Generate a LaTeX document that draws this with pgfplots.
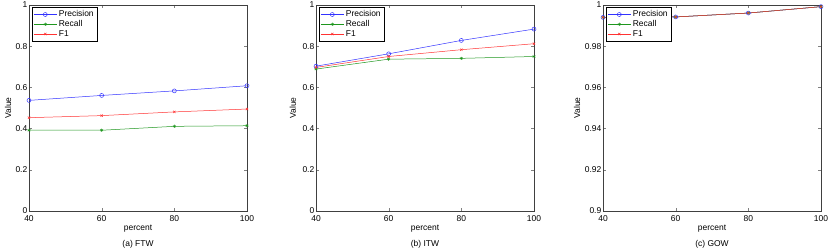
\documentclass[border=0pt]{standalone}
\usepackage{pgfplots}
\pgfplotsset{compat=1.18}
\usepackage{fontspec}
\setmainfont{Liberation Sans}
\definecolor{mblue}{RGB}{50,50,255}
\definecolor{mgreen}{RGB}{30,150,30}
\definecolor{mred}{RGB}{255,50,50}
\pgfplotsset{
 myax/.style={
  scale only axis, width=218bp, height=206bp, anchor=south west,
  xmin=40,xmax=100, xtick={40,60,80,100},
  tick align=inside, major tick length=3bp,
  font=\fontsize{8.5}{9.5}\selectfont,
  /pgf/number format/assume math mode=true,
  tick label style={font=\fontsize{8.5}{9.5}\selectfont},
  yticklabel style={/pgf/number format/fixed, inner sep=1.5bp},
  xticklabel style={inner sep=1.5bp, yshift=-2.5bp},
  xlabel={percent},
  xlabel style={at={(axis description cs:0.5,-0.088)}, anchor=center},
  legend cell align=left,
  legend style={at={(0,1)}, anchor=north west, xshift=3bp, yshift=-2bp, draw=black, font=\fontsize{8.5}{9.5}\selectfont, inner sep=1.5bp, row sep=-1.8bp},
  legend image code/.code={\draw[mark repeat=2,mark phase=2] plot coordinates {(0cm,0cm) (0.4cm,0cm) (0.8cm,0cm)};},
  axis line style={line width=0.5pt, black!75},
  every axis plot/.append style={line width=0.5pt},
 },
 prec/.style={color=mblue, mark=o, mark size=2bp},
 rec/.style={color=mgreen, mark=asterisk, mark size=1.6bp},
 fone/.style={color=mred, mark=x, mark size=1.6bp},
}
\begin{document}
\begin{tikzpicture}
\useasboundingbox (0,0) rectangle (831bp,251bp);
% (a) FTW
\begin{axis}[myax, at={(29bp,40bp)}, ymin=0, ymax=1, ytick={0,0.2,0.4,0.6,0.8,1},
  ylabel={Value}, ylabel style={at={(axis description cs:-0.096,0.5)}, anchor=center}]
\addplot[prec] coordinates {(40,0.537) (60,0.561) (80,0.583) (100,0.608)};
\addplot[rec] coordinates {(40,0.392) (60,0.392) (80,0.411) (100,0.414)};
\addplot[fone] coordinates {(40,0.453) (60,0.463) (80,0.481) (100,0.495)};
\legend{Precision,Recall,F1}
\end{axis}
\node[font=\fontsize{8.5}{9.5}\selectfont] at (138bp,7bp) {(a) FTW};
% (b) ITW
\begin{axis}[myax, at={(316bp,40bp)}, ymin=0, ymax=1, ytick={0,0.2,0.4,0.6,0.8,1},
  ylabel={Value}, ylabel style={at={(axis description cs:-0.106,0.5)}, anchor=center}]
\addplot[prec] coordinates {(40,0.703) (60,0.763) (80,0.828) (100,0.883)};
\addplot[rec] coordinates {(40,0.689) (60,0.737) (80,0.741) (100,0.750)};
\addplot[fone] coordinates {(40,0.697) (60,0.750) (80,0.783) (100,0.812)};
\legend{Precision,Recall,F1}
\end{axis}
\node[font=\fontsize{8.5}{9.5}\selectfont] at (425bp,7bp) {(b) ITW};
% (c) GOW
\begin{axis}[myax, at={(603bp,40bp)}, ymin=0.9, ymax=1, ytick={0.9,0.92,0.94,0.96,0.98,1},
  ylabel={Value}, ylabel style={at={(axis description cs:-0.119,0.5)}, anchor=center}]
\addplot[prec] coordinates {(40,0.994) (60,0.9942) (80,0.9961) (100,0.9992)};
\addplot[rec] coordinates {(40,0.994) (60,0.9942) (80,0.9961) (100,0.9992)};
\addplot[fone] coordinates {(40,0.994) (60,0.9942) (80,0.9961) (100,0.9992)};
\legend{Precision,Recall,F1}
\end{axis}
\node[font=\fontsize{8.5}{9.5}\selectfont] at (712bp,7bp) {(c) GOW};
\end{tikzpicture}
\end{document}
